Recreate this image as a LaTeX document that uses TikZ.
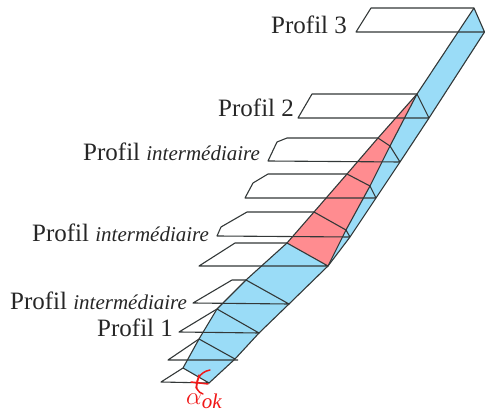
\documentclass[tikz,border=0pt]{standalone}
\usepackage{fontspec}
\usepackage{amsmath}
\setmainfont{Liberation Serif}
\definecolor{bluefill}{HTML}{9ADCF7}
\definecolor{redfill}{HTML}{FF8C90}
\definecolor{linegrey}{HTML}{333838}
\definecolor{alphared}{HTML}{F01818}
\newcommand{\itpart}[1]{{\fontsize{21}{21}\selectfont\itshape #1}}
\tikzset{
  prof/.style={draw=linegrey,line width=1.1pt,line join=round},
  edge/.style={draw=linegrey,line width=1.1pt},
  lab/.style={font=\fontsize{25}{25}\selectfont,text=black!85,inner sep=0,anchor=base west},
  ang/.style={draw=alphared,line width=1.5pt,line cap=round}
}
\begin{document}
\begin{tikzpicture}[x=1pt,y=-1pt]
\useasboundingbox (0,0) rectangle (485,414);
% strip fill
\fill[bluefill] (183,368) -- (199,339) -- (217,309) -- (246,280) -- (287,243) -- (417,94) -- (474,8) -- (485,32) -- (429,118) -- (400,162) -- (376,198) -- (350,237) -- (328,266) -- (289,304) -- (259,333) -- (235,359) -- (209,383) -- cycle;
\fill[redfill] (287,243) -- (314,212) -- (347,174) -- (378,138) -- (417,94) -- (390,146) -- (370,186) -- (346,230) -- (328,266) -- cycle;
% profiles
\coordinate (a1) at (161,382); \coordinate (a2) at (209,383); \coordinate (a3) at (183,368);
\draw[prof] (a3) -- (a1) -- (a2) -- (a3);
\coordinate (b1) at (168,360); \coordinate (b2) at (238,360); \coordinate (b3) at (199,339); \coordinate (b4) at (235,359);
\draw[prof] (b3) -- (b1) -- (b2); \draw[prof] (b3) -- (b4);
\coordinate (c1) at (179,332); \coordinate (c2) at (259,333); \coordinate (c3) at (217,309);
\draw[prof] (c3) -- (c1) -- (c2) -- (c3);
\coordinate (d1) at (193,303); \coordinate (d2) at (289,304); \coordinate (d3) at (232,280); \coordinate (d4) at (246,280);
\draw[prof] (d4) -- (d3) -- (d1) -- (d2) -- (d4);
\coordinate (e1) at (199,266); \coordinate (e2) at (328,266); \coordinate (e3) at (235,243); \coordinate (e4) at (287,243);
\draw[prof] (e4) -- (e3) -- (e1) -- (e2) -- (e4);
\coordinate (f1) at (217,236); \coordinate (f2) at (221,227); \coordinate (f3) at (247,212); \coordinate (f4) at (314,212); \coordinate (f5) at (346,230); \coordinate (f6) at (350,237);
\draw[prof] (f6) -- (f1) -- (f2) -- (f3) -- (f4) -- (f5) -- (f6);
\coordinate (g1) at (245,198); \coordinate (g2) at (253,183); \coordinate (g3) at (268,174); \coordinate (g4) at (347,174); \coordinate (g5) at (370,186); \coordinate (g6) at (376,198);
\draw[prof] (g6) -- (g1) -- (g2) -- (g3) -- (g4) -- (g5) -- (g6);
\coordinate (h1) at (268,161); \coordinate (h2) at (277,142); \coordinate (h3) at (287,138); \coordinate (h4) at (378,138); \coordinate (h5) at (390,146); \coordinate (h6) at (400,162);
\draw[prof] (h6) -- (h1) -- (h2) -- (h3) -- (h4) -- (h5) -- (h6);
\coordinate (i1) at (298,118); \coordinate (i2) at (312,94); \coordinate (i3) at (417,94); \coordinate (i4) at (429,118);
\draw[prof] (i4) -- (i1) -- (i2) -- (i3) -- (i4);
\coordinate (j1) at (356,32); \coordinate (j2) at (371,8); \coordinate (j3) at (474,8); \coordinate (j4) at (484.5,32);
\draw[prof] (j4) -- (j1) -- (j2) -- (j3) -- (j4);
% strip edges
\draw[edge] (a3) -- (b3) -- (c3) -- (d4) -- (e4);
\draw[edge] (i3) -- (j3);
\draw[edge] (e4) -- (f4) -- (g4) -- (h4) -- (i3);
\draw[edge] (i3) -- (h5) -- (g5) -- (f5) -- (e2);
\draw[edge] (j4) -- (i4) -- (h6) -- (g6) -- (f6) -- (e2) -- (d2) -- (c2) -- (b4) -- (a2);
% angle
\draw[ang] (210,370) .. controls (199,372) and (195,382) .. (197,389) .. controls (198,392) and (201,393) .. (203,394);
\draw[ang] (191,382) -- (208,384);
\draw[ang] (199,375) -- (196,388);
% labels
\node[lab] (l3) at (271,34) {Profil 3};
\node[lab] (l2) at (218,117) {Profil 2};
\node[lab] (li1) at (83,161) {Profil \itpart{intermédiaire}};
\node[lab] (li2) at (32,242) {Profil \itpart{intermédiaire}};
\node[lab] (li3) at (10,309) {Profil \itpart{intermédiaire}};
\node[lab] (l1) at (97,337) {Profil 1};
\node[inner sep=0,anchor=base west,text=alphared,font=\fontsize{30}{30}\selectfont] (aok) at (186,404) {$\alpha$\raisebox{-4pt}{\fontsize{21}{21}\selectfont\itshape ok}};
\end{tikzpicture}
\end{document}
